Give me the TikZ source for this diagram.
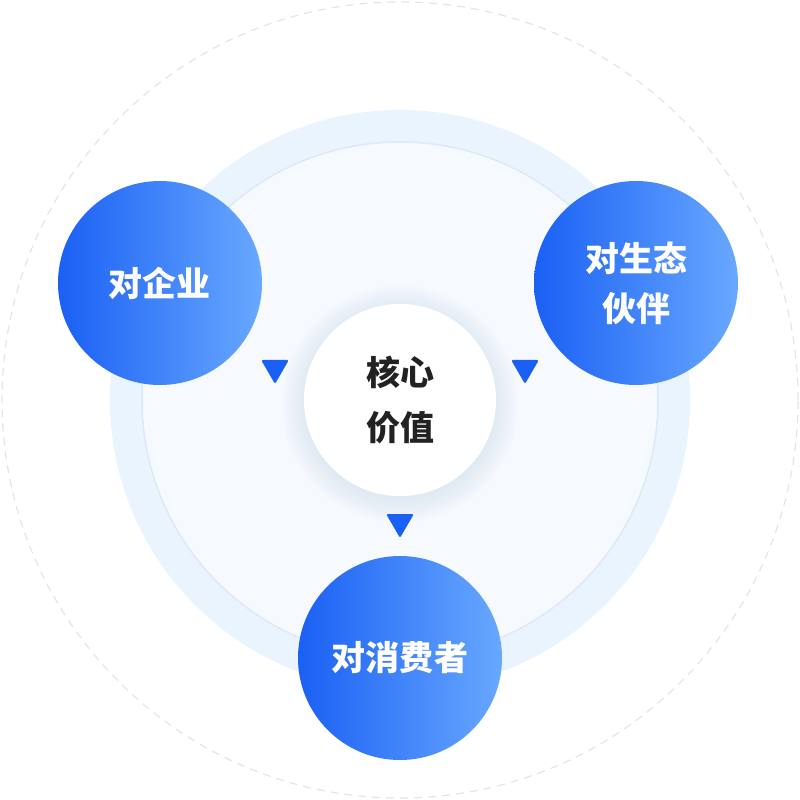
\documentclass[tikz,border=0pt]{standalone}
\usepackage{fontspec}
\newfontfamily\cjk{Noto Sans CJK SC}
\usetikzlibrary{positioning, shapes.geometric}
\definecolor{deepblue}{HTML}{1A60F4}
\definecolor{lightblue}{HTML}{68A8FF}
\definecolor{ringblue}{HTML}{EAF4FE}
\definecolor{innerblue}{HTML}{F6FAFE}
\definecolor{edgeblue}{HTML}{DDE8F8}
\definecolor{glowblue}{HTML}{C6D4F4}
\definecolor{dashgray}{HTML}{E4E4E4}
\definecolor{textdark}{HTML}{222222}
\tikzset{
    x=1pt, y=1pt, % one unit is one pixel of the picture
    node distance=100pt, on grid, % places node centres relative to each other
    party/.style={circle, minimum size=204pt, inner sep=0pt, left color=deepblue, right color=lightblue,
        text=white, align=center, font=\cjk\bfseries\fontsize{34}{50}\selectfont}, % the three blue circles
    core/.style={circle, fill=white, minimum size=192pt, inner sep=0pt, text=textdark,
        align=center, font=\cjk\bfseries\fontsize{34}{55}\selectfont}, % the white centre
    pointer/.style={regular polygon, regular polygon sides=3, shape border rotate=180,
        fill=deepblue, minimum size=32pt, inner sep=0pt, rounded corners=2pt}, % small triangles
}
\begin{document}
\begin{tikzpicture}
\useasboundingbox (-400,-400) rectangle (400,400);
% background rings
\draw[dashgray, line width=1.2pt, dash pattern=on 8pt off 6pt] (0,0) circle (398);
\fill[ringblue] (0,0) circle (290);
\draw[edgeblue, fill=innerblue, line width=1.5pt] (0,0) circle (258);
% soft glow round the centre
\foreach \r in {2,4,...,24}
    \fill[glowblue, opacity=0.03] (0,-4) circle (94+\r);
\node[core]                                        (value) {核心\\价值};
\node[party, above left=117pt and 240pt of value]  (firm)  {对企业};
\node[party, above right=117pt and 236pt of value] (eco)   {对生态\\伙伴};
\node[party, below=258pt of value]                 (buyer) {对消费者};
\node[pointer, above left=32pt and 125pt of value]  (tofirm)  {};
\node[pointer, above right=32pt and 125pt of value] (toeco)   {};
\node[pointer, below=122pt of value]                (tobuyer) {};
\end{tikzpicture}
\end{document}
